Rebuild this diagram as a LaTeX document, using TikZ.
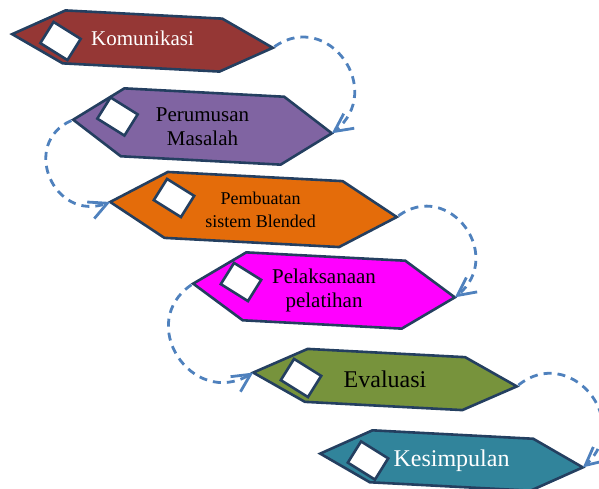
\documentclass[tikz,border=0pt]{standalone}
\usepackage{fontspec}
\setmainfont{Liberation Serif}
\usetikzlibrary{arrows.meta,bending,shapes.symbols}
\definecolor{komred}{HTML}{953735}
\definecolor{perpurple}{HTML}{8064A2}
\definecolor{pemorange}{HTML}{E46C0A}
\definecolor{pelmagenta}{HTML}{FF00FF}
\definecolor{evagreen}{HTML}{77933C}
\definecolor{kesteal}{HTML}{31849B}
\definecolor{edgeblue}{HTML}{243F60}
\definecolor{flowblue}{HTML}{4F81BD}

\begin{document}
\begin{tikzpicture}[x=1pt, y=1pt, line width=2.6pt,
  stage/.style={signal, signal to=west and east, draw=edgeblue, rotate=-3, inner sep=0pt, outer sep=0pt},
  notebox/.style={draw=edgeblue, fill=white, minimum width=32, minimum height=25, inner sep=0pt, rotate=-32},
  lbl/.style={align=center, inner sep=0pt},
  flow/.style={draw=flowblue, line width=2.8pt, dash pattern=on 8pt off 6pt, looseness=1.7, shorten <=2pt,
    -{Straight Barb[length=18pt,width=18pt,flex]}}]
  \useasboundingbox (0,0) rectangle (599,488);
  \clip (0,0) rectangle (599,488);

  \node[stage, fill=komred, minimum width=261, minimum height=53, signal pointer angle=54] (kom) at (142.5,447) {};
  \node[stage, fill=perpurple, minimum width=259, minimum height=68, signal pointer angle=69] (per) at (202.5,361.5) {};
  \node[stage, fill=pemorange, minimum width=287, minimum height=66, signal pointer angle=61] (pem) at (253.5,278.5) {};
  \node[stage, fill=pelmagenta, minimum width=262, minimum height=68, signal pointer angle=67] (pel) at (324,197.5) {};
  \node[stage, fill=evagreen, minimum width=264, minimum height=53, signal pointer angle=53] (eva) at (385,108.5) {};
  \node[stage, fill=kesteal, minimum width=263, minimum height=52, signal pointer angle=54] (kes) at (451.5,27.5) {};

  \node[notebox] (kombox) at (60.5,447) {};
  \node[notebox] (perbox) at (117.5,371.5) {};
  \node[notebox] (pembox) at (174,290) {};
  \node[notebox] (pelbox) at (241,206) {};
  \node[notebox] (evabox) at (301,110) {};
  \node[notebox] (kesbox) at (368,27.5) {};

  \node[lbl, text=white, font=\fontsize{21}{24}\selectfont, yshift=3pt] (komtxt) at (kom.center) {Komunikasi};
  \node[lbl, font=\fontsize{21}{24}\selectfont] (pertxt) at (per.center) {Perumusan\\Masalah};
  \node[lbl, font=\fontsize{18}{23}\selectfont, xshift=7pt] (pemtxt) at (pem.center) {Pembuatan\\sistem Blended};
  \node[lbl, font=\fontsize{21}{24}\selectfont] (peltxt) at (pel.center) {Pelaksanaan\\pelatihan};
  \node[lbl, font=\fontsize{24}{28}\selectfont] (evatxt) at (eva.center) {Evaluasi};
  \node[lbl, text=white, font=\fontsize{24}{28}\selectfont] (kestxt) at (kes.center) {Kesimpulan};

  \draw[flow] (kom.east) to[out=35, in=35] (per.east);
  \draw[flow] (per.west) to[out=-156, in=-156] (pem.west);
  \draw[flow] (pem.east) to[out=36, in=36] (pel.east);
  \draw[flow] (pel.west) to[out=-146, in=-146] (eva.west);
  \draw[flow] (eva.east) to[out=39, in=39] (kes.east);
\end{tikzpicture}
\end{document}
